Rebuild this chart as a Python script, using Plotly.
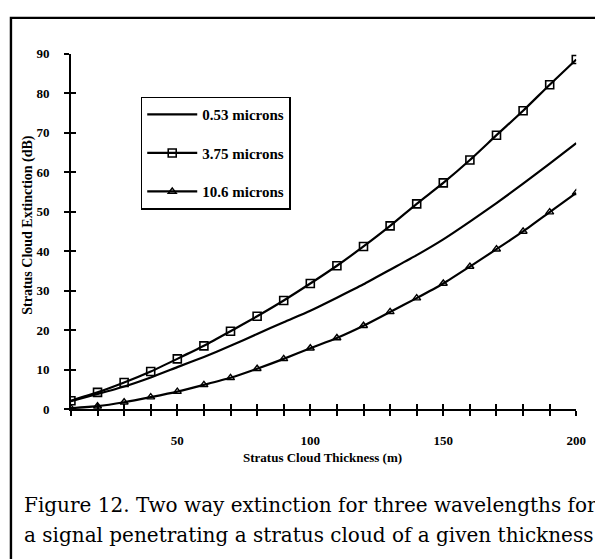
import plotly.graph_objects as go

thickness = list(range(10, 201, 10))
ext_053 = [2.0, 3.8, 5.7, 8.0, 10.6, 13.2, 16.0, 19.0, 22.0, 24.9,
           28.2, 31.6, 35.3, 39.0, 43.0, 47.5, 52.2, 57.1, 62.2, 67.4]
ext_375 = [2.1, 4.2, 6.7, 9.5, 12.7, 16.0, 19.7, 23.5, 27.5, 31.8,
           36.3, 41.2, 46.4, 52.0, 57.3, 63.1, 69.4, 75.6, 82.2, 88.6]
ext_106 = [0.2, 0.7, 1.7, 3.0, 4.4, 6.1, 7.9, 10.2, 12.7, 15.4,
           18.0, 21.1, 24.6, 28.1, 31.8, 36.1, 40.5, 45.0, 49.9, 54.8]
series_names = ["0.53 microns", "3.75 microns", "10.6 microns"]

x_tickvals = list(range(10, 201, 10))
x_ticktext = [str(v) if v % 50 == 0 else "" for v in x_tickvals]
y_tickvals = list(range(0, 91, 10))

serif = "Liberation Serif, Times New Roman, serif"
cap_serif = "DejaVu Serif, serif"

# page body has an 8px margin, so the figure is drawn 8px smaller and
# everything is placed at (screen position - 8)
W, H = 595, 551
OFF = 8


def px(sx):
    return (sx - OFF) / W


def py(sy):
    return 1 - (sy - OFF) / H


fig = go.Figure()
fig.add_trace(go.Scatter(x=thickness, y=ext_053, mode="lines", name=series_names[0],
                         legendgroup="a",
                         line=dict(color="black", width=2.2, shape="spline", smoothing=0.6)))
fig.add_trace(go.Scatter(x=thickness, y=ext_375, mode="lines+markers", name=series_names[1],
                         legendgroup="b",
                         line=dict(color="black", width=2.2, shape="spline", smoothing=0.6),
                         marker=dict(symbol="square-open", size=8, color="black",
                                     line=dict(width=1.6, color="black"))))
fig.add_trace(go.Scatter(x=thickness, y=ext_106, mode="lines+markers", name=series_names[2],
                         legendgroup="c",
                         line=dict(color="black", width=2.2, shape="spline", smoothing=0.6),
                         marker=dict(symbol="triangle-up-open", size=7, color="black",
                                     line=dict(width=1.4, color="black"))))

axis_font = dict(family=serif, size=13, color="black", weight="bold")
xdom = [px(72), px(586)]
ydom = [py(413), py(48)]

fig.update_layout(
    width=W, height=H,
    margin=dict(l=0, r=0, t=0, b=0),
    paper_bgcolor="white", plot_bgcolor="white",
    showlegend=True,
    legend=dict(
        x=px(143), y=py(92), xanchor="left", yanchor="top",
        bgcolor="white", bordercolor="black", borderwidth=1.5,
        font=dict(family=serif, size=15, color="black", weight="bold"),
        tracegroupgap=16, itemwidth=50,
        traceorder="grouped",
    ),
    xaxis=dict(
        domain=xdom, range=[10, 200],
        tickvals=x_tickvals, ticktext=x_ticktext,
        ticks="outside", ticklen=5, tickwidth=1.5, tickcolor="black",
        showline=True, linecolor="black", linewidth=1.8,
        showgrid=False, zeroline=False,
        tickfont=axis_font, ticklabelstandoff=14,
    ),
    yaxis=dict(
        domain=ydom, range=[0, 90],
        tickvals=y_tickvals,
        ticks="outside", ticklen=5, tickwidth=1.5, tickcolor="black",
        showline=True, linecolor="black", linewidth=1.8,
        showgrid=False, zeroline=False,
        tickfont=axis_font, ticklabelstandoff=12,
    ),
    xaxis2=dict(
        overlaying="x", anchor="y", side="bottom",
        domain=xdom, range=[10, 200],
        tickvals=x_tickvals, showticklabels=False,
        ticks="inside", ticklen=5, tickwidth=1.5, tickcolor="black",
        showline=False, showgrid=False, zeroline=False,
    ),
    yaxis2=dict(
        overlaying="y", anchor="x", side="left",
        domain=ydom, range=[0, 90],
        tickvals=y_tickvals, showticklabels=False,
        ticks="inside", ticklen=5, tickwidth=1.5, tickcolor="black",
        showline=False, showgrid=False, zeroline=False,
    ),
)

# invisible helper trace so the overlay axes are drawn
fig.add_trace(go.Scatter(x=[10, 200], y=[0, 90], xaxis="x2", yaxis="y2",
                         mode="markers", marker=dict(opacity=0),
                         showlegend=False, hoverinfo="skip"))

# axis titles
fig.add_annotation(text="Stratus Cloud Thickness (m)", xref="paper", yref="paper",
                   x=px(328), y=py(463), showarrow=False,
                   xanchor="center", yanchor="middle",
                   font=dict(family=serif, size=13, color="black", weight="bold"))
fig.add_annotation(text="Stratus Cloud Extinction (dB)", xref="paper", yref="paper",
                   x=px(28), y=py(224), showarrow=False, textangle=-90,
                   xanchor="center", yanchor="middle",
                   font=dict(family=serif, size=14, color="black", weight="bold"))

# caption
cap_font = dict(family=cap_serif, size=20, color="black")
fig.add_annotation(text="Figure 12. Two way extinction for three wavelengths for",
                   xref="paper", yref="paper", x=px(22), y=py(512),
                   showarrow=False, xanchor="left", yanchor="middle", font=cap_font)
fig.add_annotation(text="a signal penetrating a stratus cloud of a given thickness",
                   xref="paper", yref="paper", x=px(22), y=py(543),
                   showarrow=False, xanchor="left", yanchor="middle", font=cap_font)

# outer frame (top and left edges visible, the rest runs off the page)
fig.add_shape(type="rect", xref="paper", yref="paper",
              x0=px(11), x1=1.1, y0=-0.1, y1=py(11),
              line=dict(color="black", width=2.4), layer="below")

fig.write_html("out.html")
